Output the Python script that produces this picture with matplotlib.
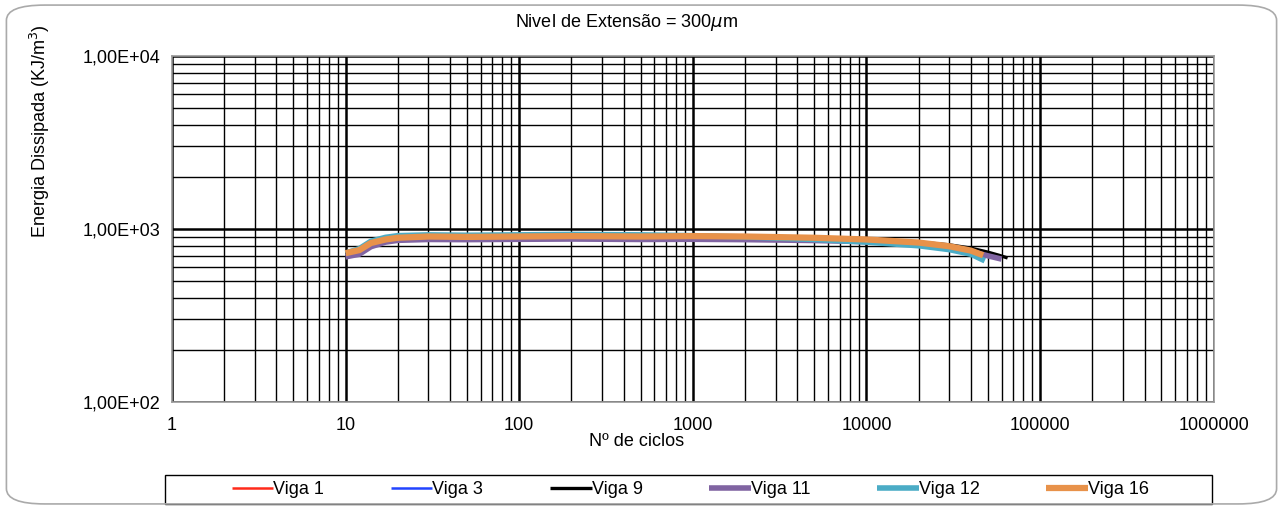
import numpy as np
import matplotlib
matplotlib.use("Agg")
import matplotlib.pyplot as plt
from matplotlib.ticker import FixedLocator, FuncFormatter, NullFormatter
from matplotlib.patches import FancyBboxPatch, Rectangle

plt.rcParams['font.family'] = ['Liberation Sans', 'DejaVu Sans']

# energia dissipada por ciclo, nivel 300 um
ciclos_1 = [10, 12, 14, 17, 20, 30, 50, 100, 200, 500, 1000, 2000, 5000, 10000, 20000, 30000, 40000, 50000]
energia_1 = [735, 760, 830, 875, 895, 905, 900, 905, 910, 905, 905, 900, 885, 865, 830, 790, 745, 700]

ciclos_3 = [10, 12, 14, 17, 20, 30, 50, 100, 200, 500, 1000, 2000, 5000, 10000, 20000, 30000, 40000, 48000]
energia_3 = [720, 750, 825, 870, 890, 900, 895, 900, 905, 900, 900, 895, 875, 850, 810, 765, 720, 690]

ciclos_9 = [10, 12, 14, 17, 20, 30, 50, 100, 200, 500, 1000, 2000, 5000, 10000, 20000, 30000, 40000, 50000, 58000, 65000]
energia_9 = [720, 755, 835, 880, 900, 910, 905, 910, 915, 910, 910, 905, 890, 870, 840, 810, 775, 735, 705, 680]

ciclos_11 = [10, 12, 14, 17, 20, 30, 50, 100, 200, 500, 1000, 2000, 5000, 10000, 20000, 30000, 40000, 50000, 60000]
energia_11 = [690, 715, 790, 840, 860, 870, 868, 872, 875, 870, 872, 868, 858, 845, 815, 780, 742, 700, 670]

ciclos_12 = [10, 12, 14, 17, 20, 30, 50, 100, 200, 500, 1000, 2000, 5000, 10000, 20000, 30000, 40000, 48000]
energia_12 = [725, 770, 850, 895, 915, 925, 920, 925, 930, 925, 915, 900, 870, 840, 800, 760, 715, 655]

ciclos_16 = [10, 12, 14, 17, 20, 30, 50, 100, 200, 500, 1000, 2000, 5000, 10000, 20000, 30000, 40000, 47000]
energia_16 = [725, 755, 830, 870, 890, 905, 900, 905, 910, 905, 910, 905, 890, 870, 835, 795, 750, 705]

series = [
    ("Viga 1", ciclos_1, energia_1, "#FF2A1A", 1.8),
    ("Viga 3", ciclos_3, energia_3, "#2244FF", 1.8),
    ("Viga 9", ciclos_9, energia_9, "#000000", 2.4),
    ("Viga 11", ciclos_11, energia_11, "#8064A2", 4.0),
    ("Viga 12", ciclos_12, energia_12, "#4BACC6", 4.0),
    ("Viga 16", ciclos_16, energia_16, "#E8924A", 4.5),
]

x_major = [1, 10, 100, 1000, 10000, 100000, 1000000]
y_major = [100, 1000, 10000]

fig = plt.figure(figsize=(12.83, 5.08), dpi=100)
ax = fig.add_axes([0.134, 0.2087, 0.812, 0.681])

for nome, x, y, cor, lw in series:
    ax.plot(x, y, color=cor, lw=lw, label=nome, solid_capstyle='butt')

ax.set_xscale('log')
ax.set_yscale('log')
ax.set_xlim(1, 1e6)
ax.set_ylim(1e2, 1e4)

x_minor = [d * k for d in x_major[:-1] for k in range(2, 10)]
y_minor = [d * k for d in y_major[:-1] for k in range(2, 10)]
ax.xaxis.set_major_locator(FixedLocator(x_major))
ax.xaxis.set_minor_locator(FixedLocator(x_minor))
ax.yaxis.set_major_locator(FixedLocator(y_major))
ax.yaxis.set_minor_locator(FixedLocator(y_minor))
ax.xaxis.set_major_formatter(FuncFormatter(lambda v, p: "%d" % round(v)))
ax.yaxis.set_major_formatter(FuncFormatter(lambda v, p: ("%.2E" % v).replace(".", ",")))
ax.xaxis.set_minor_formatter(NullFormatter())
ax.yaxis.set_minor_formatter(NullFormatter())

ax.grid(which='major', color='black', lw=1.8)
ax.grid(which='minor', color='black', lw=1.0)
ax.set_axisbelow(True)
ax.tick_params(which='both', length=0, labelsize=13)
ax.tick_params(axis='x', pad=11)
ax.tick_params(axis='y', pad=8)
for s in ax.spines.values():
    s.set_color('#999999')
    s.set_linewidth(1.2)

fig.text(0.488, 0.955, "Nivel de Extensão = 300$\\mu$m", ha='center', va='center', fontsize=13)
fig.text(0.496, 0.131, "Nº de ciclos", ha='center', va='center', fontsize=13)
fig.text(0.031, 0.742, "Energia Dissipada (KJ/m$^3$)", ha='center', va='center',
         rotation=90, fontsize=13)

# legenda numa caixa fixa por baixo do grafico
caixa = Rectangle((0.1286, 0.0079), 0.816, 0.057, transform=fig.transFigure,
                  fc='white', ec='black', lw=1.0)
fig.patches.append(caixa)
leg = fig.legend(loc='center', bbox_to_anchor=(0.538, 0.036), ncol=6, frameon=False,
                 fontsize=13, handlelength=2.3, handletextpad=0.0, columnspacing=3.7,
                 borderaxespad=0, borderpad=0)

borda = FancyBboxPatch((0.005, 0.008), 0.99, 0.982, transform=fig.transFigure,
                       boxstyle="round,pad=0,rounding_size=0.03", fc='none',
                       ec='#aaaaaa', lw=1.2)
fig.patches.append(borda)

fig.savefig("out.png", dpi=100)
